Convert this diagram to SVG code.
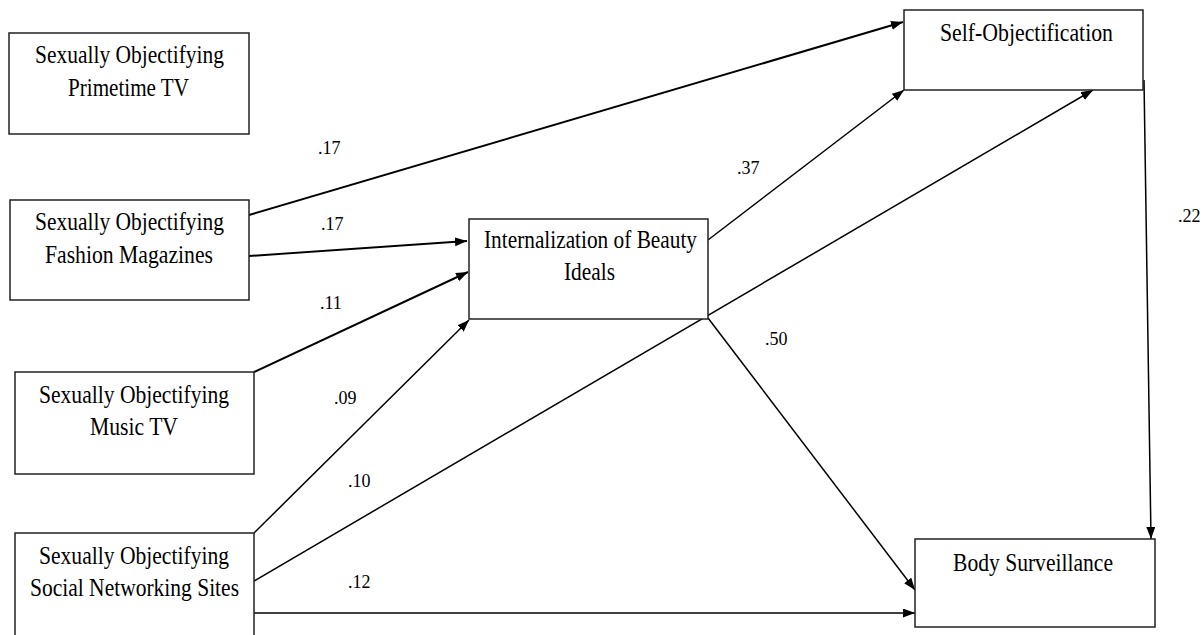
<svg xmlns="http://www.w3.org/2000/svg" width="1204" height="635" viewBox="0 0 1204 635">
<style>
.box{fill:#fff;stroke:#222;stroke-width:1.5}
.t{font-family:"Liberation Serif","Times New Roman",serif;font-size:25px;fill:#000}
.lbl{font-family:"Liberation Serif","Times New Roman",serif;font-size:18px;fill:#000}
.c{stroke:#000;stroke-width:1.5;fill:none;marker-end:url(#ah)}
.c2{stroke:#000;stroke-width:2;fill:none;marker-end:url(#ah)}
</style>
<defs>
<marker id="ah" markerUnits="userSpaceOnUse" markerWidth="13" markerHeight="10" refX="12" refY="4.5" orient="auto" viewBox="0 0 13 10">
<path d="M0,0 L12,4.5 L0,9 z" fill="#000"/>
</marker>
</defs>
<rect width="1204" height="635" fill="#fff"/>
<g id="connectors">
<line class="c2" x1="249" y1="215" x2="903" y2="22"/>
<line class="c2" x1="249" y1="256" x2="467" y2="241"/>
<line class="c2" x1="254" y1="372" x2="468" y2="272"/>
<line class="c" x1="254" y1="533" x2="469" y2="320"/>
<line class="c" x1="254" y1="581" x2="1093" y2="90"/>
<line class="c" x1="708" y1="240" x2="904" y2="90"/>
<line class="c" x1="708" y1="318" x2="915" y2="590"/>
<line class="c" x1="254" y1="613" x2="915" y2="613"/>
<line class="c" x1="1144" y1="80" x2="1151" y2="539"/>
</g>
<g id="labels">
<text class="lbl" x="318" y="154">.17</text>
<text class="lbl" x="321" y="230">.17</text>
<text class="lbl" x="320" y="309">.11</text>
<text class="lbl" x="737" y="174">.37</text>
<text class="lbl" x="1178" y="222">.22</text>
<text class="lbl" x="765" y="345">.50</text>
<text class="lbl" x="334" y="404">.09</text>
<text class="lbl" x="348" y="487">.10</text>
<text class="lbl" x="348" y="588">.12</text>
</g>
<g id="node-primetime">
<rect class="box" x="9" y="33" width="240" height="101"/>
<text class="t" x="35" y="63" textLength="189" lengthAdjust="spacingAndGlyphs">Sexually Objectifying</text>
<text class="t" x="68" y="95.5" textLength="121" lengthAdjust="spacingAndGlyphs">Primetime TV</text>
</g>
<g id="node-fashion">
<rect class="box" x="10" y="200" width="239" height="100"/>
<text class="t" x="35" y="230" textLength="189" lengthAdjust="spacingAndGlyphs">Sexually Objectifying</text>
<text class="t" x="45" y="263" textLength="168" lengthAdjust="spacingAndGlyphs">Fashion Magazines</text>
</g>
<g id="node-music">
<rect class="box" x="15" y="372" width="239" height="102"/>
<text class="t" x="39" y="403" textLength="190" lengthAdjust="spacingAndGlyphs">Sexually Objectifying</text>
<text class="t" x="90" y="435" textLength="88" lengthAdjust="spacingAndGlyphs">Music TV</text>
</g>
<g id="node-sns">
<rect class="box" x="15" y="533" width="239" height="104"/>
<text class="t" x="39" y="564" textLength="190" lengthAdjust="spacingAndGlyphs">Sexually Objectifying</text>
<text class="t" x="30" y="596" textLength="209" lengthAdjust="spacingAndGlyphs">Social Networking Sites</text>
</g>
<g id="node-internalization">
<rect class="box" x="469" y="219" width="239" height="100"/>
<text class="t" x="484" y="248" textLength="213" lengthAdjust="spacingAndGlyphs">Internalization of Beauty</text>
<text class="t" x="564" y="280" textLength="51" lengthAdjust="spacingAndGlyphs">Ideals</text>
</g>
<g id="node-selfobj">
<rect class="box" x="904" y="10" width="239" height="80"/>
<text class="t" x="940" y="41" textLength="173" lengthAdjust="spacingAndGlyphs">Self-Objectification</text>
</g>
<g id="node-surveillance">
<rect class="box" x="915" y="539" width="240" height="88"/>
<text class="t" x="953" y="571" textLength="160" lengthAdjust="spacingAndGlyphs">Body Surveillance</text>
</g>
</svg>
